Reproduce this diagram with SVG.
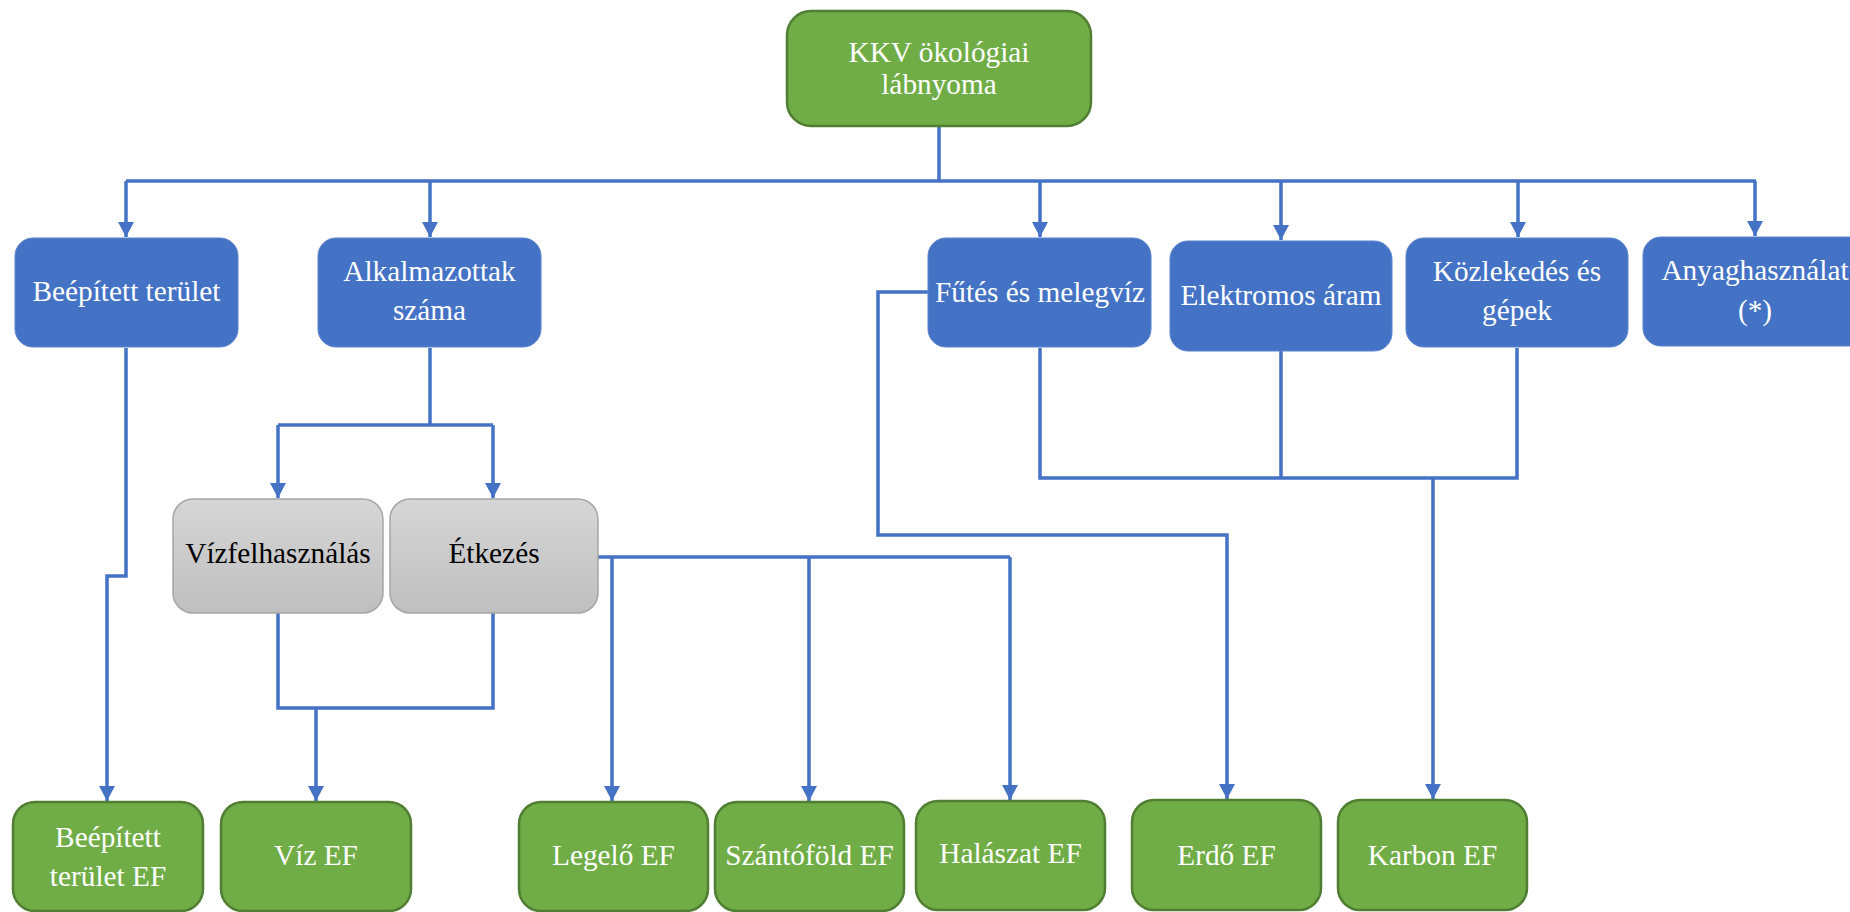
<svg xmlns="http://www.w3.org/2000/svg" width="1850" height="912" viewBox="0 0 1850 912">
  <defs>
    <marker id="arrow" markerUnits="userSpaceOnUse" markerWidth="16" markerHeight="16" refX="15" refY="8" orient="auto" viewBox="0 0 16 16">
      <path d="M0,0 L15,8 L0,16 Z" fill="#4472c4"/>
    </marker>
    <linearGradient id="grayFill" x1="0" y1="0" x2="0" y2="1">
      <stop offset="0" stop-color="#d6d6d6"/>
      <stop offset="1" stop-color="#bfbfbf"/>
    </linearGradient>
    <style>
      .green { fill: #70ad47; stroke: #507e32; stroke-width: 2.5; }
      .blue { fill: #4472c4; stroke: #5b82cc; stroke-width: 1; }
      .gray { fill: url(#grayFill); stroke: #a5a5a5; stroke-width: 1.5; }
      .lbl { font-family: "Liberation Serif", "Times New Roman", serif; font-size: 29.3px; text-anchor: middle; fill: #ffffff; }
      .dark { fill: #000000; }
      .wire { fill: none; stroke: #4472c4; stroke-width: 3.5; stroke-linejoin: miter; }
      .tip { fill: none; stroke: #4472c4; stroke-width: 3.5; marker-end: url(#arrow); }
    </style>
  </defs>

  <!-- connectors -->
  <g id="connectors">
    <!-- root to first level -->
    <path class="wire" d="M939,126 V181"/>
    <path class="wire" d="M126,181 H1756"/>
    <path class="tip" d="M126,181 V237"/>
    <path class="tip" d="M430,181 V237"/>
    <path class="tip" d="M1040,181 V237"/>
    <path class="tip" d="M1281,181 V240"/>
    <path class="tip" d="M1518,181 V237"/>
    <path class="tip" d="M1755,181 V236"/>

    <!-- built-up area -->
    <path class="tip" d="M126,348 V576 H107 V801"/>

    <!-- employees to water / food -->
    <path class="wire" d="M430,348 V425"/>
    <path class="wire" d="M278,425 H493"/>
    <path class="tip" d="M278,425 V498"/>
    <path class="tip" d="M493,425 V498"/>

    <!-- water / food to water EF -->
    <path class="wire" d="M278,613 V708 H493 V613"/>
    <path class="tip" d="M316,708 V801"/>

    <!-- food to land EFs -->
    <path class="wire" d="M598,557 H1010"/>
    <path class="tip" d="M612,557 V801"/>
    <path class="tip" d="M809,557 V801"/>
    <path class="tip" d="M1010,557 V800"/>

    <!-- heating to forest EF -->
    <path class="tip" d="M928,292 H878 V535 H1227 V799"/>

    <!-- energy and transport to carbon EF -->
    <path class="wire" d="M1040,348 V478 H1517 V348"/>
    <path class="wire" d="M1281,351 V478"/>
    <path class="tip" d="M1433,478 V799"/>
  </g>

  <g id="root">
    <rect class="green" x="787" y="11" width="304" height="115" rx="24"/>
    <text class="lbl" x="939" y="62">KKV ökológiai</text>
    <text class="lbl" x="939" y="94">lábnyoma</text>
  </g>

  <g id="beepitett-terulet">
    <rect class="blue" x="15" y="238" width="223" height="109" rx="18"/>
    <text class="lbl" x="126.5" y="301">Beépített terület</text>
  </g>
  <g id="alkalmazottak">
    <rect class="blue" x="318" y="238" width="223" height="109" rx="18"/>
    <text class="lbl" x="429.5" y="281">Alkalmazottak</text>
    <text class="lbl" x="429.5" y="320">száma</text>
  </g>
  <g id="futes">
    <rect class="blue" x="928" y="238" width="223" height="109" rx="18"/>
    <text class="lbl" x="1040" y="302">Fűtés és melegvíz</text>
  </g>
  <g id="elektromos">
    <rect class="blue" x="1170" y="241" width="222" height="110" rx="18"/>
    <text class="lbl" x="1281" y="305">Elektromos áram</text>
  </g>
  <g id="kozlekedes">
    <rect class="blue" x="1406" y="238" width="222" height="109" rx="18"/>
    <text class="lbl" x="1517" y="281">Közlekedés és</text>
    <text class="lbl" x="1517" y="320">gépek</text>
  </g>
  <g id="anyaghasznalat">
    <rect class="blue" x="1643" y="237" width="224" height="109" rx="18"/>
    <text class="lbl" x="1755" y="280">Anyaghasználat</text>
    <text class="lbl" x="1755" y="320">(*)</text>
  </g>

  <g id="vizfelhasznalas">
    <rect class="gray" x="173" y="499" width="210" height="114" rx="20"/>
    <text class="lbl dark" x="278" y="563">Vízfelhasználás</text>
  </g>
  <g id="etkezes">
    <rect class="gray" x="390" y="499" width="208" height="114" rx="20"/>
    <text class="lbl dark" x="494" y="563">Étkezés</text>
  </g>

  <g id="beepitett-ef">
    <rect class="green" x="13" y="802" width="190" height="109" rx="22"/>
    <text class="lbl" x="108" y="847">Beépített</text>
    <text class="lbl" x="108" y="886">terület EF</text>
  </g>
  <g id="viz-ef">
    <rect class="green" x="221" y="802" width="190" height="109" rx="22"/>
    <text class="lbl" x="316" y="865">Víz EF</text>
  </g>
  <g id="legelo-ef">
    <rect class="green" x="519" y="802" width="189" height="109" rx="22"/>
    <text class="lbl" x="613.5" y="865">Legelő EF</text>
  </g>
  <g id="szantofold-ef">
    <rect class="green" x="715" y="802" width="189" height="109" rx="22"/>
    <text class="lbl" x="809.5" y="865">Szántóföld EF</text>
  </g>
  <g id="halaszat-ef">
    <rect class="green" x="916" y="801" width="189" height="109" rx="22"/>
    <text class="lbl" x="1010.5" y="863">Halászat EF</text>
  </g>
  <g id="erdo-ef">
    <rect class="green" x="1132" y="800" width="189" height="110" rx="22"/>
    <text class="lbl" x="1226.5" y="865">Erdő EF</text>
  </g>
  <g id="karbon-ef">
    <rect class="green" x="1338" y="800" width="189" height="110" rx="22"/>
    <text class="lbl" x="1432.5" y="865">Karbon EF</text>
  </g>
</svg>
